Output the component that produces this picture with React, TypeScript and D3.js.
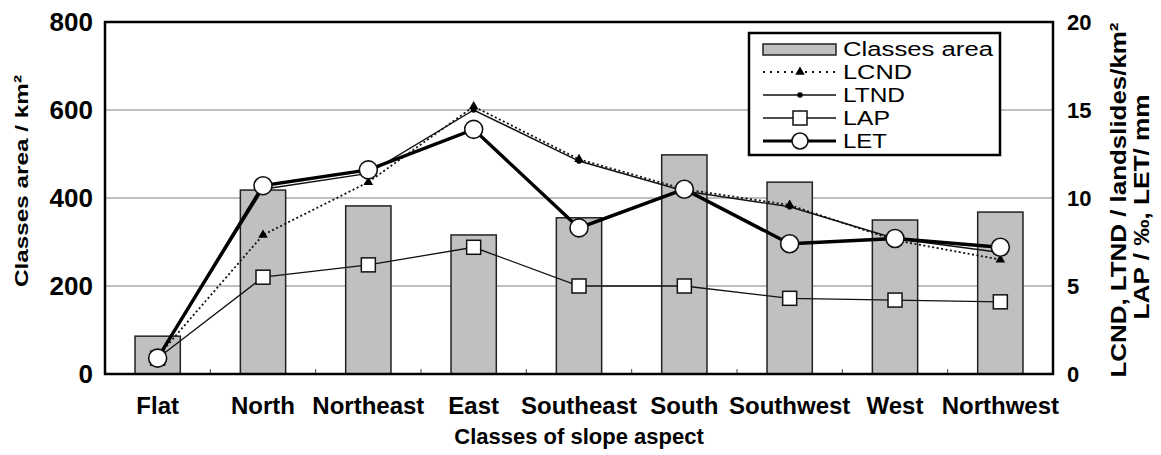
import React, { useEffect, useRef } from 'react';
import * as d3 from 'd3';

const categories = ['Flat', 'North', 'Northeast', 'East', 'Southeast', 'South', 'Southwest', 'West', 'Northwest'];
const classesArea = [86, 418, 382, 316, 355, 498, 436, 350, 368];
const lcnd = [1.0, 7.9, 10.9, 15.2, 12.2, 10.5, 9.6, 7.6, 6.5];
const ltnd = [0.9, 10.5, 11.4, 15.0, 12.1, 10.4, 9.5, 7.7, 6.9];
const lap = [0.9, 5.5, 6.2, 7.2, 5.0, 5.0, 4.3, 4.2, 4.1];
const letValues = [0.9, 10.7, 11.6, 13.9, 8.3, 10.5, 7.4, 7.7, 7.2];
const leftTicks = [0, 200, 400, 600, 800];
const rightTicks = [0, 5, 10, 15, 20];
const legendNames = ['Classes area', 'LCND', 'LTND', 'LAP', 'LET'];

const FONT = '"Liberation Sans", Arial, sans-serif';

export default function App() {
  const svgRef = useRef<SVGSVGElement>(null);

  useEffect(() => {
    if (!svgRef.current) return;
    const width = 1161;
    const height = 455;
    const m = { left: 105, right: 1053, top: 22, bottom: 374 };

    const svg = d3.select(svgRef.current)
      .attr('viewBox', `0 0 ${width} ${height}`)
      .html('');

    const x = d3.scaleBand<string>()
      .domain(categories)
      .range([m.left, m.right])
      .paddingInner(0.57)
      .paddingOuter(0.285);
    const xc = (i: number) => (x(categories[i]) as number) + x.bandwidth() / 2;
    const yL = d3.scaleLinear().domain([0, 800]).range([m.bottom, m.top]);
    const yR = d3.scaleLinear().domain([0, 20]).range([m.bottom, m.top]);

    // gridlines
    svg.append('g').selectAll('line')
      .data(leftTicks.filter(t => t > 0 && t < 800))
      .enter().append('line')
      .attr('x1', m.left).attr('x2', m.right)
      .attr('y1', d => yL(d)).attr('y2', d => yL(d))
      .attr('stroke', '#aaa').attr('stroke-width', 1.5);

    // bars
    svg.append('g').selectAll('rect')
      .data(classesArea)
      .enter().append('rect')
      .attr('x', (_, i) => x(categories[i]) as number)
      .attr('width', x.bandwidth())
      .attr('y', d => yL(d))
      .attr('height', d => yL(0) - yL(d))
      .attr('fill', '#c0c0c0')
      .attr('stroke', '#222')
      .attr('stroke-width', 1.5);

    // bottom inner ticks at band boundaries
    const step = x.step();
    svg.append('g').selectAll('line')
      .data(d3.range(1, categories.length))
      .enter().append('line')
      .attr('x1', i => m.left + i * step).attr('x2', i => m.left + i * step)
      .attr('y1', m.bottom).attr('y2', m.bottom - 5)
      .attr('stroke', '#444').attr('stroke-width', 1);

    const line = (vals: number[]) =>
      d3.line<number>().x((_, i) => xc(i)).y(d => yR(d))(vals) as string;

    // LAP
    svg.append('path').attr('d', line(lap))
      .attr('fill', 'none').attr('stroke', '#111').attr('stroke-width', 1.3);
    // LCND dotted
    svg.append('path').attr('d', line(lcnd))
      .attr('fill', 'none').attr('stroke', '#111').attr('stroke-width', 1.8)
      .attr('stroke-dasharray', '2,2.5');
    // LTND
    svg.append('path').attr('d', line(ltnd))
      .attr('fill', 'none').attr('stroke', '#111').attr('stroke-width', 1.4);
    // LET thick
    svg.append('path').attr('d', line(letValues))
      .attr('fill', 'none').attr('stroke', '#000').attr('stroke-width', 3.4);

    const tri = d3.symbol().type(d3.symbolTriangle).size(40);
    svg.append('g').selectAll('path')
      .data(lcnd)
      .enter().append('path')
      .attr('d', tri)
      .attr('transform', (d, i) => `translate(${xc(i)},${yR(d)})`)
      .attr('fill', '#000');

    svg.append('g').selectAll('circle')
      .data(ltnd)
      .enter().append('circle')
      .attr('cx', (_, i) => xc(i)).attr('cy', d => yR(d))
      .attr('r', 2.8).attr('fill', '#000');

    svg.append('g').selectAll('rect')
      .data(lap)
      .enter().append('rect')
      .attr('x', (_, i) => xc(i) - 7).attr('y', d => yR(d) - 7)
      .attr('width', 14).attr('height', 14)
      .attr('fill', '#fff').attr('stroke', '#111').attr('stroke-width', 1.5);

    svg.append('g').selectAll('circle')
      .data(letValues)
      .enter().append('circle')
      .attr('cx', (_, i) => xc(i)).attr('cy', d => yR(d))
      .attr('r', 9).attr('fill', '#fff').attr('stroke', '#111').attr('stroke-width', 1.6);

    // frame
    svg.append('rect')
      .attr('x', m.left).attr('y', m.top)
      .attr('width', m.right - m.left).attr('height', m.bottom - m.top)
      .attr('fill', 'none').attr('stroke', '#000').attr('stroke-width', 2.5);

    // left tick labels
    svg.append('g').selectAll('text')
      .data(leftTicks)
      .enter().append('text')
      .attr('x', 93).attr('y', d => yL(d))
      .attr('text-anchor', 'end').attr('dominant-baseline', 'central')
      .attr('font-family', FONT).attr('font-weight', 'bold').attr('font-size', 26)
      .text(d => d);

    // right tick labels
    svg.append('g').selectAll('text')
      .data(rightTicks)
      .enter().append('text')
      .attr('x', 1067).attr('y', d => yR(d))
      .attr('text-anchor', 'start').attr('dominant-baseline', 'central')
      .attr('font-family', FONT).attr('font-weight', 'bold').attr('font-size', 22)
      .text(d => d);

    // category labels
    svg.append('g').selectAll('text')
      .data(categories)
      .enter().append('text')
      .attr('x', (_, i) => xc(i)).attr('y', 414)
      .attr('text-anchor', 'middle')
      .attr('font-family', FONT).attr('font-weight', 'bold').attr('font-size', 24)
      .text(d => d);

    svg.append('text')
      .attr('x', (m.left + m.right) / 2).attr('y', 444)
      .attr('text-anchor', 'middle')
      .attr('font-family', FONT).attr('font-weight', 'bold').attr('font-size', 22)
      .text('Classes of slope aspect');

    // axis titles
    svg.append('text')
      .attr('transform', 'translate(28,181) rotate(-90)')
      .attr('text-anchor', 'middle')
      .attr('font-family', FONT).attr('font-weight', 'bold').attr('font-size', 19)
      .attr('textLength', 212).attr('lengthAdjust', 'spacingAndGlyphs')
      .text('Classes area / km²');

    svg.append('text')
      .attr('transform', 'translate(1126,200) rotate(-90)')
      .attr('text-anchor', 'middle')
      .attr('font-family', FONT).attr('font-weight', 'bold').attr('font-size', 22)
      .attr('textLength', 355).attr('lengthAdjust', 'spacingAndGlyphs')
      .text('LCND, LTND / landslides/km²');

    svg.append('text')
      .attr('transform', 'translate(1149,207) rotate(-90)')
      .attr('text-anchor', 'middle')
      .attr('font-family', FONT).attr('font-weight', 'bold').attr('font-size', 22)
      .attr('textLength', 225).attr('lengthAdjust', 'spacingAndGlyphs')
      .text('LAP / ‰, LET/ mm');

    // legend
    const lg = svg.append('g');
    lg.append('rect')
      .attr('x', 749).attr('y', 33).attr('width', 251).attr('height', 122)
      .attr('fill', '#fff').attr('stroke', '#000').attr('stroke-width', 2.5);
    const rows = [49, 72, 95, 118, 141];
    const textWidths = [150, 69, 62, 47, 44];
    const sx0 = 763, sx1 = 836, sxm = 800;
    lg.append('rect')
      .attr('x', sx0).attr('y', rows[0] - 5).attr('width', sx1 - sx0).attr('height', 11)
      .attr('fill', '#c0c0c0').attr('stroke', '#222').attr('stroke-width', 1.5);
    lg.append('line').attr('x1', sx0).attr('x2', sx1).attr('y1', rows[1]).attr('y2', rows[1])
      .attr('stroke', '#111').attr('stroke-width', 1.8).attr('stroke-dasharray', '2,5');
    lg.append('path').attr('d', tri).attr('transform', `translate(${sxm},${rows[1]})`).attr('fill', '#000');
    lg.append('line').attr('x1', sx0).attr('x2', sx1).attr('y1', rows[2]).attr('y2', rows[2])
      .attr('stroke', '#111').attr('stroke-width', 1.6);
    lg.append('circle').attr('cx', sxm).attr('cy', rows[2]).attr('r', 2.8).attr('fill', '#000');
    lg.append('line').attr('x1', sx0).attr('x2', sx1).attr('y1', rows[3]).attr('y2', rows[3])
      .attr('stroke', '#111').attr('stroke-width', 1.3);
    lg.append('rect').attr('x', sxm - 7).attr('y', rows[3] - 7).attr('width', 14).attr('height', 14)
      .attr('fill', '#fff').attr('stroke', '#111').attr('stroke-width', 1.5);
    lg.append('line').attr('x1', sx0).attr('x2', sx1).attr('y1', rows[4]).attr('y2', rows[4])
      .attr('stroke', '#000').attr('stroke-width', 3);
    lg.append('circle').attr('cx', sxm).attr('cy', rows[4]).attr('r', 8)
      .attr('fill', '#fff').attr('stroke', '#111').attr('stroke-width', 1.6);
    lg.selectAll('text.lg')
      .data(legendNames)
      .enter().append('text')
      .attr('class', 'lg')
      .attr('x', 843).attr('y', (_, i) => rows[i])
      .attr('dominant-baseline', 'central')
      .attr('font-family', FONT).attr('font-size', 20)
      .attr('textLength', (_, i) => textWidths[i]).attr('lengthAdjust', 'spacingAndGlyphs')
      .text(d => d);
  }, []);

  return (
    <div style={{ position: 'absolute', left: 0, top: 0, width: 1161, height: 455, background: '#fff' }}>
      <svg ref={svgRef} width={1161} height={455} style={{ display: 'block' }} />
    </div>
  );
}
